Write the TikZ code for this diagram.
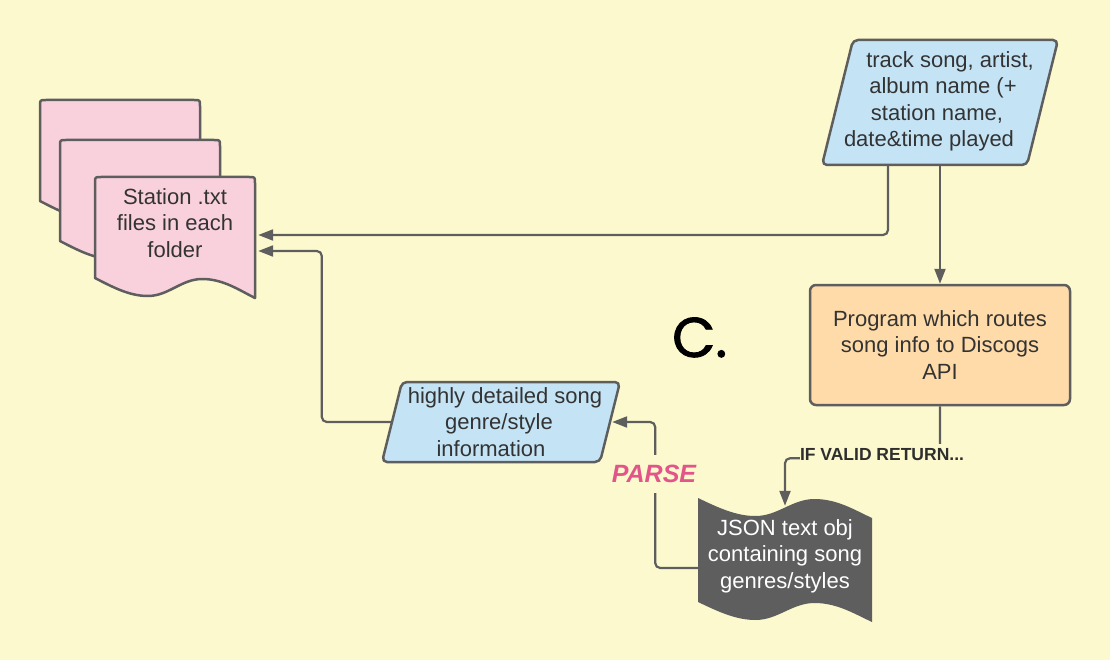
\documentclass[tikz,border=0pt]{standalone}
\usepackage{fontspec}
\setmainfont{Liberation Sans}
\newfontfamily\poppins[FakeBold=1.6]{Poppins}
\usetikzlibrary{arrows.meta}
\definecolor{bg}{HTML}{FCF9CE}
\definecolor{lc}{HTML}{5E5E5E}
\definecolor{tc}{HTML}{333333}
\definecolor{pinkf}{HTML}{F9D1DD}
\definecolor{bluef}{HTML}{C4E4F6}
\definecolor{orangef}{HTML}{FEDBA9}
\definecolor{jsonf}{HTML}{5E5E5E}
\definecolor{parsec}{HTML}{E2558A}
\definecolor{lblc}{HTML}{2E2E2E}
\newcommand\pagedoc[2]{%
  \filldraw[outl, fill=pinkf] (#1,#2+101) -- (#1,#2+6) .. controls (#1,#2) .. (#1+6,#2)
    -- (#1+154,#2) .. controls (#1+160,#2) .. (#1+160,#2+6)
    -- (#1+160,#2+121)
    .. controls (#1+144,#2+113) and (#1+128,#2+102) .. (#1+107.2,#2+102)
    .. controls (#1+86.4,#2+102) and (#1+73.6,#2+119) .. (#1+52.8,#2+119)
    .. controls (#1+35.2,#2+119) and (#1+19.2,#2+111) .. (#1,#2+101) -- cycle;}
\begin{document}
\begin{tikzpicture}[x=1pt,y=-1pt,
  outl/.style={draw=lc, line width=2.5pt, line join=round},
  conn/.style={draw=lc, line width=2.2pt, rounded corners=5pt, -{Triangle[length=15pt,width=11pt]}},
  txt/.style={text=tc, font=\fontsize{22}{26.5}\selectfont, align=center, inner sep=0pt},
  lbl/.style={fill=bg, inner sep=0pt}]
\useasboundingbox (0,0) rectangle (1110,660);
\fill[bg] (0,0) rectangle (1110,660);
% shapes
\filldraw[outl, fill=bluef, rounded corners=5pt] (853,40) -- (1058,40) -- (1027,165) -- (822,165) -- cycle;
\filldraw[outl, fill=bluef, rounded corners=5pt] (402,382) -- (620,382) -- (600,462) -- (382,462) -- cycle;
\pagedoc{40}{100}
\pagedoc{60}{140}
\pagedoc{95}{177}
\fill[jsonf] (698,498) .. controls (718.9,508) and (736.3,516) .. (755.4,516)
  .. controls (778,516) and (792,499) .. (814.6,499)
  .. controls (837.2,499) and (854.6,510) .. (872,518) -- (872,622)
  .. controls (854.6,614) and (837.2,603) .. (814.6,603)
  .. controls (792,603) and (778,620) .. (755.4,620)
  .. controls (736.3,620) and (718.9,612) .. (698,602) -- cycle;
% nodes
\node[txt, minimum width=160pt] (doc) at (175,223) {Station .txt\\files in each\\folder};
\node[txt, minimum width=180pt, minimum height=125pt] (para1) at (940,101.5)
  {\hbox to 20pt{}track song, artist,\\\hbox to 6pt{}album name (+\\station name,\hbox to 6pt{}\\date\&time played\hbox to 22pt{}};
\node[txt, outl, fill=orangef, rounded corners=6pt, minimum width=260pt, minimum height=120pt] (prog) at (940,345)
  {Program which routes\\song info to Discogs\\API};
\node[txt, minimum width=218pt, minimum height=80pt] (para2) at (500,422)
  {\hbox to 10pt{}highly detailed song\\genre/style\hbox to 2pt{}\\information\hbox to 18pt{}};
\node[txt, text=white, minimum width=174pt, minimum height=100pt] (json) at (785,556)
  {JSON text obj\\containing song\\genres/styles};
% connectors
\draw[conn] (para1.south) -- (prog.north);
\draw[conn] ([xshift=-52pt]para1.south) |- ([xshift=3pt,yshift=-12pt]doc.east);
\draw[conn] (prog.south) -- ++(0,52) -| (json.north);
\draw[conn] ([yshift=-12pt]json.west) -| ([xshift=46pt]para2.east) -- ([xshift=3pt]para2.east);
\draw[conn] (para2.west) -- ++(-69,0) |- ([xshift=3pt,yshift=-28pt]doc.east);
% labels
\node[lbl, text=lblc, font=\bfseries\fontsize{17.5}{20}\selectfont, inner ysep=5pt] (ifv) at (882,455) {IF VALID RETURN...};
\node[lbl, text=parsec, font=\bfseries\itshape\fontsize{25}{28}\selectfont, inner xsep=2pt, inner ysep=10pt] (parse) at (654,474) {PARSE};
\node[font=\poppins\fontsize{56}{60}\selectfont, anchor=base west, inner sep=0pt] (cl) at (672,357) {C.};
\end{tikzpicture}
\end{document}
